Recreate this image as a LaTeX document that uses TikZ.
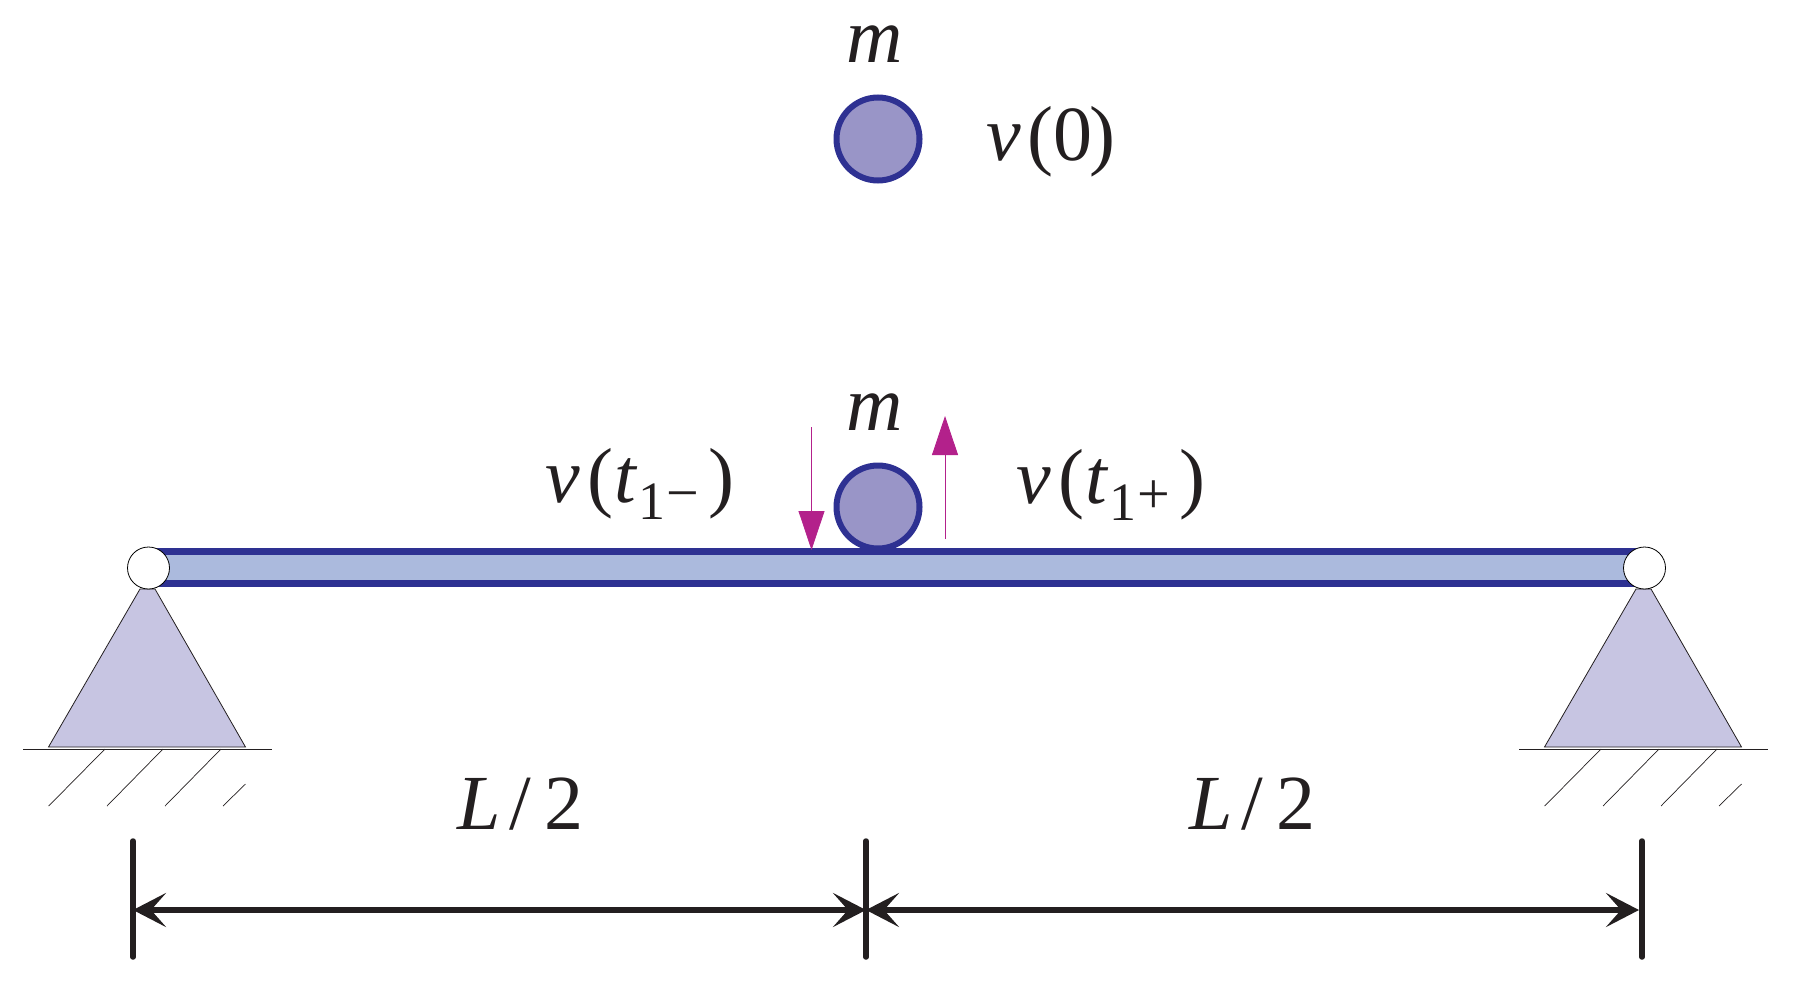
\documentclass[tikz,border=0pt]{standalone}
\usepackage{fontspec}
\setmainfont{Liberation Serif}
\usetikzlibrary{arrows.meta}
\definecolor{dkblue}{HTML}{2E3192}
\definecolor{beamfill}{HTML}{ABBADD}
\definecolor{ballfill}{HTML}{9995C7}
\definecolor{supfill}{HTML}{C7C5E2}
\definecolor{vel}{HTML}{B3218B}
\definecolor{ink}{HTML}{231F20}
\newcommand{\labfont}{\fontsize{78}{78}\selectfont}
\newcommand{\vi}{{\itshape v}}
\newcommand{\subone}[1]{\kern2pt\raisebox{-17pt}{\fontsize{54}{54}\selectfont 1\kern1pt\raisebox{7pt}{\fontsize{58}{58}\selectfont #1}}\kern10pt}
\tikzset{
  x=1pt,y=-1pt,
  lab/.style={anchor=base west,inner sep=0pt,outer sep=0pt,text=ink,font=\labfont},
  ball/.style={circle,draw=dkblue,fill=ballfill,line width=6pt,minimum size=83pt,inner sep=0pt},
  pin/.style={circle,draw=black,fill=white,line width=0.8pt,minimum size=42pt,inner sep=0pt},
  support/.style={draw=ink,fill=supfill,line width=0.8pt},
  groundline/.style={draw=ink,line width=1pt},
  hatch/.style={draw=ink,line width=0.7pt},
  velarrow/.style={draw=vel,line width=0.8pt,-{Triangle[length=39pt,width=26pt,fill=vel]}},
  dimarrow/.style={draw=ink,line width=5.5pt,{Stealth[length=33pt,width=34pt,inset=15pt]}-{Stealth[length=33pt,width=34pt,inset=15pt]}},
  dimtick/.style={draw=ink,line width=5.5pt,line cap=round}
}
\begin{document}
\begin{tikzpicture}
\useasboundingbox (0,0) rectangle (1793,985);
% beam
\fill[beamfill] (148,551) rectangle (1645,584);
\draw[dkblue,line width=7pt] (148,551.5) -- (1645,551.5);
\draw[dkblue,line width=7pt] (148,583.5) -- (1645,583.5);
% supports
\foreach \dx/\nm in {0/a,1496/b}{
 \begin{scope}[shift={(\dx,0)}]
  \path[support] (140,589) -- (48.5,747) -- (245.5,747) -- (155,589) -- cycle;
  \path[groundline] (23,749) -- (272,749);
  \path[hatch] (105,749) -- (48.7,806);
  \path[hatch] (163,749) -- (107,806);
  \path[hatch] (221,749) -- (165,806);
  \path[hatch] (245.5,784) -- (223,806);
  \node[pin] (pin\nm) at (148.5,568) {};
 \end{scope}
}
% balls
\node[ball] (topball) at (878,139) {};
\node[ball] (midball) at (878,507) {};
% velocity arrows
\coordinate (dnA) at (811.5,427); \coordinate (dnB) at (811.5,550);
\coordinate (upA) at (945,539); \coordinate (upB) at (945,416);
\draw[velarrow] (dnA) -- (dnB);
\draw[velarrow] (upA) -- (upB);
% labels
\node[lab] (m1) at (846,62) {\itshape m};
\node[lab] (m2) at (846,430) {\itshape m};
\node[lab] (v0) at (986,160) {\vi\kern7pt(0\kern-3pt)};
\node[lab] (vm) at (545,502) {\vi\kern8pt(\kern1pt{\itshape t}\subone{−})};
\node[lab] (vp) at (1016,503) {\vi\kern8pt(\kern1pt{\itshape t}\subone{+})};
\node[lab] (L1) at (457,829) {{\itshape L}\kern9pt/\kern13pt2};
\node[lab] (L2) at (1189,829) {{\itshape L}\kern9pt/\kern13pt2};
% dimensions
\coordinate (d1t) at (133,841); \coordinate (d1b) at (133,957);
\coordinate (d2t) at (866,841); \coordinate (d2b) at (866,957);
\coordinate (d3t) at (1642,841); \coordinate (d3b) at (1642,957);
\coordinate (d1) at (133,910); \coordinate (d2) at (866,910); \coordinate (d3) at (1639,910);
\draw[dimtick] (d1t) -- (d1b);
\draw[dimtick] (d2t) -- (d2b);
\draw[dimtick] (d3t) -- (d3b);
\draw[dimarrow] (d1) -- (d2);
\draw[dimarrow] (d2) -- (d3);
\end{tikzpicture}
\end{document}
